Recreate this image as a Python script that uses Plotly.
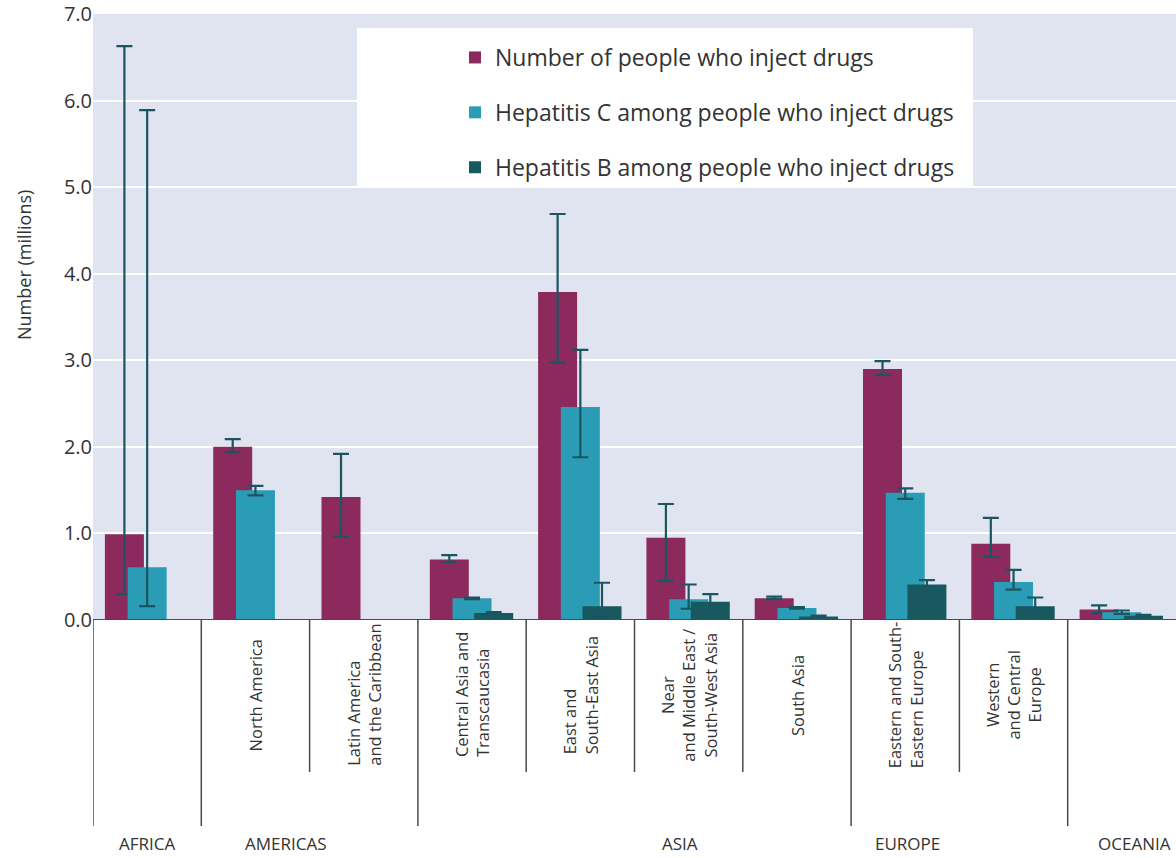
import plotly.graph_objects as go

# ---------------- data ----------------
categories = ["Africa", "North America", "Latin America and the Caribbean",
              "Central Asia and Transcaucasia", "East and South-East Asia",
              "Near and Middle East / South-West Asia", "South Asia",
              "Eastern and South-Eastern Europe", "Western and Central Europe", "Oceania"]
cat_labels = ["", "North America", "Latin America<br>and the Caribbean",
              "Central Asia and<br>Transcaucasia", "East and<br>South-East Asia",
              "Near<br>and Middle East /<br>South-West Asia", "South Asia",
              "Eastern and South-<br>Eastern Europe", "Western<br>and Central<br>Europe", ""]
regions = ["AFRICA", "AMERICAS", "ASIA", "EUROPE", "OCEANIA"]
y_ticks = [0, 1, 2, 3, 4, 5, 6, 7]

series_names = ["Number of people who inject drugs",
                "Hepatitis C among people who inject drugs",
                "Hepatitis B among people who inject drugs"]

pwid = [0.99, 2.00, 1.42, 0.70, 3.79, 0.95, 0.25, 2.90, 0.88, 0.12]
pwid_hi = [6.63, 2.09, 1.92, 0.75, 4.69, 1.34, 0.27, 2.99, 1.18, 0.17]
pwid_lo = [0.30, 1.94, 0.96, 0.67, 2.97, 0.45, 0.24, 2.83, 0.73, 0.08]

hcv = [0.61, 1.50, None, 0.25, 2.46, 0.24, 0.14, 1.47, 0.44, 0.09]
hcv_hi = [5.89, 1.55, None, 0.26, 3.12, 0.41, 0.15, 1.52, 0.58, 0.11]
hcv_lo = [0.16, 1.44, None, 0.24, 1.88, 0.13, 0.13, 1.40, 0.35, 0.07]

hbv = [None, None, None, 0.08, 0.16, 0.21, 0.04, 0.41, 0.16, 0.05]
hbv_hi = [None, None, None, 0.09, 0.43, 0.30, 0.05, 0.46, 0.26, 0.06]
hbv_lo = [None, None, None, 0.07, 0.05, 0.12, 0.03, 0.37, 0.10, 0.04]

# ---------------- layout / style ----------------
FONT = "Open Sans"
TXT = "#333333"
colors = ["#8c2a5e", "#2a9cb5", "#18585f"]
err_color = "#1b5560"
bar_width = 0.36
bar_offsets = [-0.39, -0.18, 0.02]
long_seps = [-0.5, 0.5, 2.5, 6.5, 8.5]
short_seps = [1.5, 3.5, 4.5, 5.5, 7.5]
region_x = [0.0, 1.28, 4.92, 7.02, 9.12]
label_align = ["center", "center", "left", "left", "left", "center", "center", "left", "center", "center"]

PLOT_TOP, PLOT_BOTTOM, PLOT_LEFT, PLOT_W = 14, 620, 93, 1083
PLOT_H = PLOT_BOTTOM - PLOT_TOP


def py(px):
    """pixel row -> paper y"""
    return (PLOT_BOTTOM - px) / PLOT_H


def pxx(px):
    """pixel column -> paper x"""
    return (px - PLOT_LEFT) / PLOT_W


x = list(range(len(categories)))


def plus(v, hi):
    return [None if a is None else round(b - a, 3) for a, b in zip(v, hi)]


def minus(v, lo):
    return [None if a is None else round(a - b, 3) for a, b in zip(v, lo)]


fig = go.Figure()
for i, (vals, hi, lo) in enumerate([(pwid, pwid_hi, pwid_lo), (hcv, hcv_hi, hcv_lo), (hbv, hbv_hi, hbv_lo)]):
    fig.add_trace(go.Bar(
        x=x, y=vals, name=series_names[i], legendgroup=str(i),
        width=bar_width, offset=bar_offsets[i],
        marker=dict(color=colors[i], line=dict(width=0)),
        error_y=dict(type="data", array=plus(vals, hi), arrayminus=minus(vals, lo),
                     color=err_color, thickness=2.2, width=8),
        hovertext=categories,
    ))

shapes = []
# white legend panel
shapes.append(dict(type="rect", xref="paper", yref="paper", x0=pxx(357), x1=pxx(973),
                   y0=py(186), y1=py(28),
                   fillcolor="white", line=dict(width=0), layer="above"))
# baseline
shapes.append(dict(type="line", xref="paper", yref="y", x0=0, x1=1, y0=0, y1=0,
                   line=dict(color="#4a4a4a", width=2), layer="above"))
for s in long_seps:
    shapes.append(dict(type="line", xref="x", yref="paper", x0=s, x1=s, y0=0, y1=py(826),
                       line=dict(color="#4a4a4a", width=1.5)))
for s in short_seps:
    shapes.append(dict(type="line", xref="x", yref="paper", x0=s, x1=s, y0=0, y1=py(772),
                       line=dict(color="#4a4a4a", width=1.5)))

annotations = []
for xi, lab, al in zip(x, cat_labels, label_align):
    if lab:
        annotations.append(dict(x=xi, y=py(695), xref="x", yref="paper", text=lab, textangle=-90,
                                showarrow=False, align=al, xanchor="center", yanchor="middle",
                                font=dict(family=FONT, size=16.5, color=TXT)))
for rx, rn in zip(region_x, regions):
    annotations.append(dict(x=rx, y=py(843), xref="x", yref="paper", text=rn, showarrow=False,
                            xanchor="center", yanchor="middle",
                            font=dict(family=FONT, size=17, color=TXT)))
# y-axis title
annotations.append(dict(x=pxx(24), y=py(265), xref="paper", yref="paper", text="Number (millions)",
                        textangle=-90, showarrow=False, xanchor="center", yanchor="middle",
                        font=dict(family=FONT, size=18, color=TXT)))

fig.update_layout(
    width=1176, height=858,
    margin=dict(l=PLOT_LEFT, r=0, t=PLOT_TOP, b=858 - PLOT_BOTTOM),
    paper_bgcolor="white", plot_bgcolor="#dfe4f0",
    barmode="overlay",
    font=dict(family=FONT, color=TXT),
    showlegend=True,
    legend=dict(x=pxx(455), y=py(36), xanchor="left", yanchor="top",
                bgcolor="rgba(0,0,0,0)", font=dict(family=FONT, size=23, color=TXT),
                tracegroupgap=22, itemclick=False),
    xaxis=dict(range=[-0.5, 9.5], showticklabels=False, showgrid=False, zeroline=False,
               ticks="", showline=False),
    yaxis=dict(range=[0, 7], tickvals=y_ticks, tickformat=".1f", showgrid=True,
               gridcolor="white", gridwidth=2, zeroline=False, ticks="", showline=False,
               tickfont=dict(family=FONT, size=20, color=TXT)),
    shapes=shapes, annotations=annotations,
)

fig.write_html("out.html")
